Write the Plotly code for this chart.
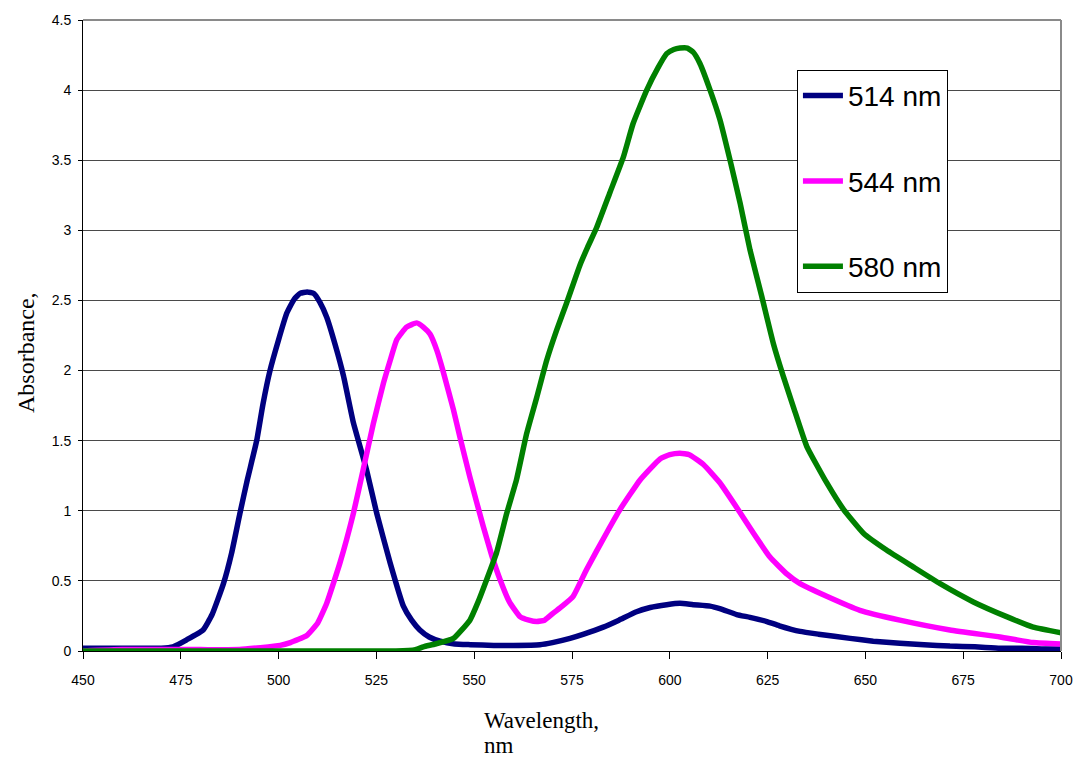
import plotly.graph_objects as go

# ---- data ----
wl_514 = [450, 455, 460, 465, 470, 473, 476.5, 480.7, 483, 485.9, 488, 490.1, 492, 494.4, 496, 497.8,
          500, 502.1, 504, 505.5, 507.3, 509, 510.5, 512.3, 514.5, 516.6, 519.1, 522.5, 525.1, 528.5,
          531.9, 534, 536.1, 538.5, 541.3, 545, 549, 555, 560, 566.8, 570, 574.5, 578, 583, 587, 591.5,
          595, 599.2, 602.6, 606, 610.3, 613, 617.1, 620.5, 624.8, 628, 633.3, 638, 646.1, 652, 658.8,
          665, 671.6, 678, 684.4, 690, 695, 700]
abs_514 = [0.02, 0.02, 0.02, 0.02, 0.02, 0.03, 0.08, 0.15, 0.26, 0.48, 0.70, 0.98, 1.22, 1.50, 1.76, 2.0,
           2.22, 2.41, 2.51, 2.55, 2.56, 2.55, 2.49, 2.38, 2.18, 1.96, 1.63, 1.29, 0.98, 0.63,
           0.32, 0.22, 0.15, 0.10, 0.07, 0.05, 0.045, 0.04, 0.04, 0.045, 0.06, 0.09, 0.12, 0.17, 0.22, 0.28,
           0.31, 0.33, 0.34, 0.33, 0.32, 0.30, 0.26, 0.24, 0.21, 0.18, 0.14, 0.12, 0.09, 0.07, 0.055,
           0.045, 0.035, 0.03, 0.02, 0.02, 0.015, 0.015]

wl_544 = [450, 460, 470, 480, 490, 500.4, 503, 507.2, 510, 512.3, 515.7, 519.1, 521.6, 524.2, 526.8, 528.5,
          530.2, 532.7, 535.3, 537, 538.7, 540.5, 542.1, 544.7, 546.4, 548.9, 552.3, 554.5, 556.6, 559,
          561.7, 564, 566, 568, 570.2, 572.5, 575.3, 578.7, 583.8, 587.3, 592.4, 597.5, 600, 602.6, 605,
          608.6, 612.8, 617.9, 621.4, 625.6, 629.9, 633.3, 640.1, 648.6, 658.8, 671.6, 684.4, 692.9, 700]
abs_544 = [0.0, 0.01, 0.01, 0.01, 0.01, 0.04, 0.06, 0.11, 0.2, 0.34, 0.63, 0.98, 1.29, 1.62, 1.91, 2.07,
           2.22, 2.31, 2.34, 2.31, 2.26, 2.14, 1.99, 1.72, 1.52, 1.24, 0.89, 0.68, 0.51, 0.35,
           0.245, 0.22, 0.21, 0.22, 0.27, 0.32, 0.39, 0.58, 0.84, 1.01, 1.22, 1.37, 1.40, 1.41, 1.40,
           1.33, 1.20, 0.99, 0.84, 0.67, 0.55, 0.48, 0.39, 0.29, 0.22, 0.15, 0.10, 0.06, 0.05]

wl_580 = [450, 460, 480, 500, 520, 530, 535, 537, 540, 544.7, 548.9, 551, 553.2, 555.7, 558.3, 560.8,
          563.4, 566, 568.5, 571.1, 573.6, 577, 579, 581.3, 584.7, 588.1, 590.6, 594.1, 597, 599.2, 601,
          602.6, 604.5, 606, 607.7, 610.3, 612.8, 615.4, 618, 620.5, 623.5, 626.5, 629, 631.6, 635,
          640.1, 644.4, 649.5, 655.4, 662.2, 669.1, 677.6, 686.1, 692.9, 700]
abs_580 = [0.0, 0.0, 0.0, 0.0, 0.0, 0.0, 0.01, 0.03, 0.05, 0.09, 0.22, 0.35, 0.51, 0.70, 0.98, 1.22,
           1.55, 1.81, 2.07, 2.29, 2.48, 2.75, 2.88, 3.02, 3.27, 3.52, 3.76, 4.0, 4.16, 4.26, 4.29,
           4.30, 4.30, 4.27, 4.19, 4.0, 3.79, 3.50, 3.19, 2.86, 2.53, 2.19, 1.96, 1.74, 1.46,
           1.20, 1.01, 0.84, 0.72, 0.60, 0.48, 0.35, 0.245, 0.17, 0.13]

series_names = ["514 nm", "544 nm", "580 nm"]
series_colors = ["#000080", "#FF00FF", "#008000"]
x_ticks = [450, 475, 500, 525, 550, 575, 600, 625, 650, 675, 700]
y_ticks = [0, 0.5, 1, 1.5, 2, 2.5, 3, 3.5, 4, 4.5]
y_tick_labels = ["0", "0.5", "1", "1.5", "2", "2.5", "3", "3.5", "4", "4.5"]

SANS = "Liberation Sans, Arial, sans-serif"
SERIF = "Liberation Serif, Times New Roman, serif"

fig = go.Figure()
for i, (xs, ys) in enumerate([(wl_514, abs_514), (wl_544, abs_544), (wl_580, abs_580)]):
    fig.add_trace(go.Scatter(
        x=xs, y=ys, mode="lines", name=series_names[i],
        legendgroup=series_names[i],
        line=dict(color=series_colors[i], width=5.5, shape="spline", smoothing=0.4),
    ))

fig.update_layout(
    width=1073, height=757,
    margin=dict(l=83, r=12, t=20, b=106, autoexpand=False),
    paper_bgcolor="white", plot_bgcolor="white",
    showlegend=True,
    legend=dict(
        x=0.730, y=0.921, xanchor="left", yanchor="top",
        bordercolor="black", borderwidth=1, bgcolor="white",
        font=dict(family=SANS, size=28, color="black"),
        tracegroupgap=46, itemwidth=40,
    ),
    xaxis=dict(
        range=[450, 700], tickmode="array", tickvals=x_ticks,
        showgrid=False, zeroline=False, automargin=False,
        showline=True, linecolor="black", linewidth=1,
        ticks="outside", ticklen=7, tickcolor="black",
        ticklabelstandoff=9, ticklabeloverflow="allow",
        tickfont=dict(family=SANS, size=14, color="black"),
    ),
    yaxis=dict(
        range=[0, 4.5], tickmode="array", tickvals=y_ticks, ticktext=y_tick_labels,
        showgrid=True, gridcolor="#4a4a4a", gridwidth=1, zeroline=False, automargin=False,
        showline=True, linecolor="black", linewidth=1,
        ticks="outside", ticklen=4, tickcolor="black",
        ticklabelstandoff=4, ticklabeloverflow="allow",
        tickfont=dict(family=SANS, size=14, color="black"),
    ),
    shapes=[
        dict(type="line", xref="paper", yref="paper", x0=0, x1=1, y0=1, y1=1,
             line=dict(color="#8a8a8a", width=2), layer="above"),
        dict(type="line", xref="paper", yref="paper", x0=1, x1=1, y0=0, y1=1,
             line=dict(color="#8a8a8a", width=2), layer="above"),
    ],
    annotations=[
        dict(text="Wavelength,", xref="paper", yref="paper",
             x=(482 - 83) / 978, y=(651 - 720) / 631, xanchor="left", yanchor="middle",
             align="left", showarrow=False,
             font=dict(family=SERIF, size=23, color="black")),
        dict(text="nm", xref="paper", yref="paper",
             x=(482 - 83) / 978, y=(651 - 745) / 631, xanchor="left", yanchor="middle",
             align="left", showarrow=False,
             font=dict(family=SERIF, size=23, color="black")),
        dict(text="Absorbance,", xref="paper", yref="paper",
             x=(26 - 83) / 978, y=(651 - 353) / 631, xanchor="center", yanchor="middle",
             textangle=-90, showarrow=False,
             font=dict(family=SERIF, size=24, color="black")),
    ],
)

fig.write_html("out.html", config={"displayModeBar": False},
               post_script="document.body.style.margin='0';")
